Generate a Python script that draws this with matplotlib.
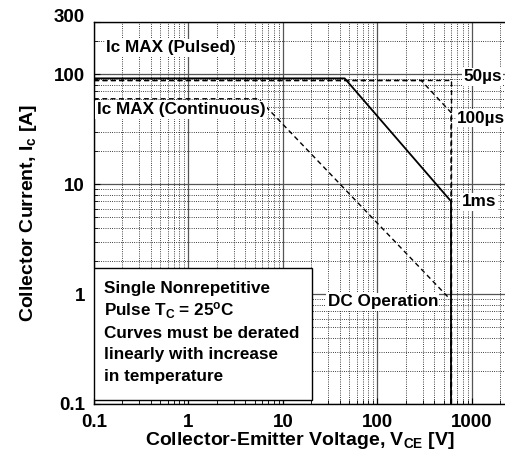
import matplotlib
matplotlib.use("Agg")
import matplotlib.pyplot as plt
from matplotlib.patches import Rectangle
from matplotlib.ticker import LogLocator, NullFormatter, FixedLocator, FixedFormatter

plt.rcParams['font.family'] = ['Liberation Sans', 'DejaVu Sans']
plt.rcParams['font.weight'] = 'bold'
plt.rcParams['mathtext.fontset'] = 'custom'
plt.rcParams['mathtext.rm'] = 'Liberation Sans:bold'
plt.rcParams['mathtext.bf'] = 'Liberation Sans:bold'
plt.rcParams['mathtext.it'] = 'Liberation Sans:bold'
plt.rcParams['mathtext.default'] = 'rm'

# dados (SOA)
v_1ms = [0.1, 45, 600, 600]
i_1ms = [92, 92, 7.0, 0.1]
v_100us = [0.1, 290, 600, 600]
i_100us = [88, 88, 45, 0.1]
v_50us = [0.1, 600, 600]
i_50us = [88, 88, 0.1]
v_dc = [0.1, 5.5, 600, 600]
i_dc = [60, 60, 0.88, 0.1]

x_ticks = [0.1, 1, 10, 100, 1000]
x_labels = ['0.1', '1', '10', '100', '1000']
y_ticks = [0.1, 1, 10, 100, 300]
y_labels = ['0.1', '1', '10', '100', '300']

fig = plt.figure(figsize=(5.05, 4.55), dpi=100)
ax = fig.add_axes([0.1861, 0.1121, 0.823, 0.8396])
ax.set_xscale('log')
ax.set_yscale('log')
ax.set_xlim(0.1, 2500)
ax.set_ylim(0.1, 300)

dash = (0, (3.5, 2.5))
ax.plot(v_1ms, i_1ms, color='k', lw=1.3, zorder=4)
ax.plot(v_100us, i_100us, color='k', lw=1.0, ls=dash, zorder=4)
ax.plot(v_50us, i_50us, color='k', lw=1.0, ls=dash, zorder=4)
ax.plot(v_dc, i_dc, color='k', lw=1.0, ls=dash, zorder=4)

ax.xaxis.set_major_locator(FixedLocator(x_ticks))
ax.xaxis.set_major_formatter(FixedFormatter(x_labels))
ax.yaxis.set_major_locator(FixedLocator(y_ticks))
ax.yaxis.set_major_formatter(FixedFormatter(y_labels))
ax.xaxis.set_minor_locator(LogLocator(base=10, subs=range(2, 10), numticks=20))
ax.yaxis.set_minor_locator(LogLocator(base=10, subs=range(2, 10), numticks=20))
ax.xaxis.set_minor_formatter(NullFormatter())
ax.yaxis.set_minor_formatter(NullFormatter())

ax.grid(which='major', color='#555555', lw=0.9, ls='-')
ax.grid(which='minor', color='k', lw=0.6, ls=':')
ax.tick_params(which='both', direction='in', labelsize=13.5)
ax.tick_params(which='major', length=4)
ax.tick_params(axis='x', which='major', pad=7)
ax.tick_params(axis='y', which='major', pad=6.5)
ax.tick_params(which='minor', length=3)
ax.spines['right'].set_visible(False)
for s in ['left', 'bottom', 'top']:
    ax.spines[s].set_linewidth(1.0)

fig.canvas.draw()
for lab in ax.get_xticklabels() + ax.get_yticklabels():
    lab.set_fontweight('bold')
ax.get_yticklabels()[-1].set_va('baseline')

ax.set_xlabel('Collector-Emitter Voltage, V$_{CE}$ [V]', fontsize=14, fontweight='bold')
ax.set_ylabel('Collector Current, I$_c$ [A]', fontsize=14, fontweight='bold')
ax.xaxis.set_label_coords(0.495, -0.068)
ax.yaxis.set_label_coords(-0.132, 0.5)

box = dict(facecolor='white', edgecolor='none', pad=1)
fs = 12.3
ax.text(0.134, 174, 'Ic MAX (Pulsed)', fontsize=fs, va='center', ha='left', bbox=box, zorder=5)
ax.text(0.107, 47.5, 'Ic MAX (Continuous)', fontsize=fs, va='center', ha='left', bbox=box, zorder=5)
ax.text(803, 95, '50µs', fontsize=fs, va='center', ha='left', bbox=box, zorder=5)
ax.text(693, 40, '100µs', fontsize=fs, va='center', ha='left', bbox=box, zorder=5)
ax.text(783, 6.93, '1ms', fontsize=fs, va='center', ha='left', bbox=box, zorder=5)
ax.text(114, 0.85, 'DC Operation', fontsize=fs, va='center', ha='center', bbox=box, zorder=5)

ax.add_patch(Rectangle((0.0, 0.0105), 0.5245, 0.3455, transform=ax.transAxes,
                       facecolor='white', edgecolor='k', lw=1.0, zorder=6))
linhas = ['Single Nonrepetitive',
          'Pulse T$_C$ = 25$^o$C',
          'Curves must be derated',
          'linearly with increase',
          'in temperature']
base_y = [292.7, 315.5, 338.3, 359.0, 380.7]
for txt, py in zip(linhas, base_y):
    fig.text(104 / 505, 1 - py / 455, txt, fontsize=fs, va='baseline', ha='left', zorder=7)

fig.savefig('out.png', dpi=100)
